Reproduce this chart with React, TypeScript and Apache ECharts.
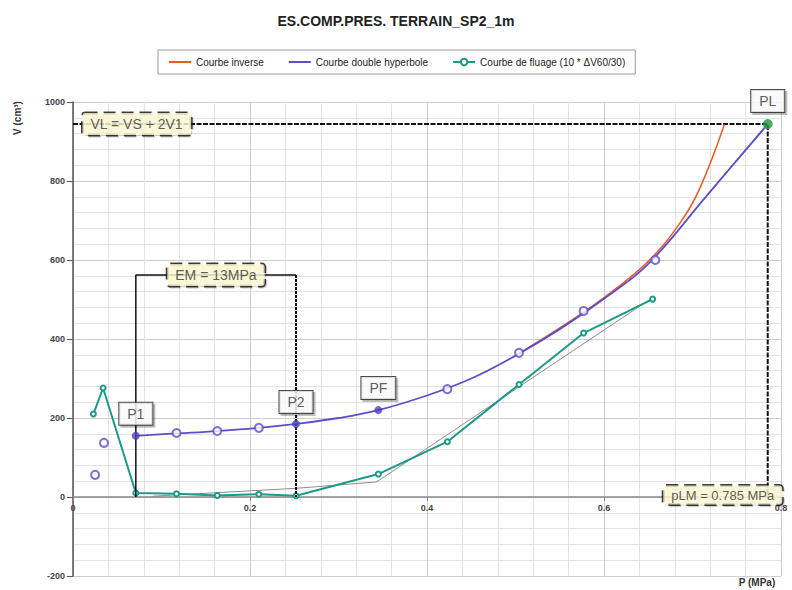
import React, { useEffect, useRef } from "react";
import * as echarts from "echarts";

const chartTitle = "ES.COMP.PRES. TERRAIN_SP2_1m";
const legendNames = [
  "Courbe inverse",
  "Courbe double hyperbole",
  "Courbe de fluage (10 * ΔV60/30)",
];
const xAxisTitle = "P (MPa)";
const yAxisTitle = "V (cm³)";

// measured pressuremeter points (open circles)
const rawP = [0.025, 0.035, 0.117, 0.163, 0.21, 0.423, 0.504, 0.577, 0.658];
const rawV = [56, 137, 162, 167, 175, 273, 365, 471, 600];

// characteristic points
const keyNames = ["P1", "P2", "PF", "PL"];
const keyP = [0.071, 0.252, 0.345, 0.785];
const keyV = [155, 185, 220, 944];

// double hyperbola fitted curve
const hypP = [0.071, 0.117, 0.163, 0.21, 0.252, 0.3, 0.345, 0.4, 0.45, 0.5, 0.55, 0.6, 0.65, 0.715, 0.785];
const hypV = [155, 161, 167, 175, 185, 200, 220, 257, 300, 358, 425, 502, 590, 760, 944];

// inverse curve
const invP = [0.505, 0.55, 0.6, 0.65, 0.686, 0.708, 0.736];
const invV = [365, 428, 505, 597, 694, 780, 943];

// creep curve (10 * dV60/30)
const fluP = [0.023, 0.034, 0.071, 0.117, 0.163, 0.21, 0.252, 0.345, 0.423, 0.504, 0.577, 0.655];
const fluV = [210, 276, 10, 8, 4, 7, 3, 58, 140, 285, 415, 501];

// grey reference line of the creep curve
const greyP = [0.09, 0.252, 0.343, 0.655];
const greyV = [2, 22, 38, 505];

// annotations
const emTopV = 562;
const emText = "EM = 13MPa";
const vlText = "VL = VS + 2V1";
const plmText = "pLM = 0.785 MPa";

const FONT = "'Liberation Sans', Arial, sans-serif";
const zip = (a: number[], b: number[]) => a.map((x, i) => [x, b[i]]);

export default function App() {
  const ref = useRef<HTMLDivElement>(null);
  useEffect(() => {
    if (!ref.current) return;
    const chart = echarts.init(ref.current, null, { renderer: "svg" });
    const plP = keyP[3];
    const plV = keyV[3];
    const p1 = keyP[0];
    const p2 = keyP[1];
    const yellowBox = {
      show: true,
      backgroundColor: "#fffcd6",
      borderColor: "#111",
      borderWidth: 1.5,
      borderType: "dashed",
      borderRadius: 3,
      padding: [4, 8],
      fontSize: 14,
      fontFamily: FONT,
      color: "#333",
      shadowColor: "rgba(0,0,0,0.25)",
      shadowOffsetX: 1,
      shadowOffsetY: 1,
    };
    const hiddenSymbol = { color: "rgba(0,0,0,0)", borderWidth: 0, borderColor: "rgba(0,0,0,0)" };
    const option: any = {
      animation: false,
      backgroundColor: "#fff",
      textStyle: { fontFamily: FONT },
      title: {
        text: chartTitle,
        left: "center",
        top: 9,
        textStyle: { fontSize: 14, fontWeight: "bold", color: "#222", fontFamily: FONT },
      },
      legend: {
        data: [
          { name: legendNames[0], itemStyle: hiddenSymbol },
          { name: legendNames[1], itemStyle: hiddenSymbol },
          { name: legendNames[2] },
        ],
        left: 158,
        top: 50,
        borderColor: "#999",
        borderWidth: 1,
        padding: [7, 10],
        itemWidth: 22,
        itemHeight: 8,
        itemGap: 24,
        textStyle: { fontSize: 10, color: "#222", fontFamily: FONT },
      },
      grid: { left: 73, right: 11, top: 102, bottom: 14, containLabel: false },
      xAxis: {
        type: "value",
        min: 0,
        max: 0.8,
        interval: 0.2,
        offset: -79,
        axisLine: { onZero: false, lineStyle: { color: "#888", width: 1.5 } },
        axisTick: { show: true, length: 4, lineStyle: { color: "#888" } },
        axisLabel: { fontSize: 9, fontWeight: "bold", color: "#444", margin: 6 },
        splitLine: { show: true, lineStyle: { color: "#cdcdcd" } },
        minorTick: { show: false, splitNumber: 5 },
        minorSplitLine: { show: true, lineStyle: { color: "#e3e3e3" } },
      },
      yAxis: {
        type: "value",
        min: -200,
        max: 1000,
        interval: 200,
        axisLine: { show: true, onZero: false, lineStyle: { color: "#555", width: 1.5 } },
        axisTick: { show: true, length: 6, lineStyle: { color: "#555" } },
        axisLabel: {
          fontSize: 9,
          fontWeight: "bold",
          color: "#444",
          margin: 8,
          formatter: (v: number) => String(v),
        },
        splitLine: { show: true, lineStyle: { color: "#cdcdcd" } },
        minorTick: { show: false, splitNumber: 5 },
        minorSplitLine: { show: true, lineStyle: { color: "#e3e3e3" } },
      },
      graphic: [
        {
          type: "text",
          x: 17,
          y: 118,
          rotation: Math.PI / 2,
          style: {
            text: yAxisTitle,
            fill: "#333",
            font: `bold 10px ${FONT}`,
            align: "center",
            verticalAlign: "middle",
          },
        },
        {
          type: "text",
          x: 757,
          y: 582,
          style: {
            text: xAxisTitle,
            fill: "#333",
            font: `bold 10px ${FONT}`,
            align: "center",
            verticalAlign: "middle",
          },
        },
      ],
      series: [
        {
          name: "grey",
          type: "line",
          data: zip(greyP, greyV),
          symbol: "none",
          lineStyle: { color: "#8c8c8c", width: 1 },
          z: 2,
        },
        {
          name: legendNames[2],
          type: "line",
          data: zip(fluP, fluV),
          symbol: "emptyCircle",
          symbolSize: 5,
          color: "#1d998b",
          lineStyle: { color: "#1d998b", width: 2 },
          itemStyle: { color: "#1d998b", borderWidth: 1 },
          z: 3,
        },
        {
          name: "vl-lines",
          type: "line",
          data: [
            [0, plV],
            [plP, plV],
            [plP, 0],
          ],
          symbol: "none",
          lineStyle: { color: "#111", width: 2, type: [5, 1.5] },
          z: 4,
        },
        {
          name: "em-left",
          type: "line",
          data: [
            [p1, 0],
            [p1, emTopV],
            [p2, emTopV],
          ],
          symbol: "none",
          lineStyle: { color: "#111", width: 1.5 },
          z: 4,
        },
        {
          name: "em-right",
          type: "line",
          data: [
            [p2, emTopV],
            [p2, 0],
          ],
          symbol: "none",
          lineStyle: { color: "#111", width: 2, type: [3, 1] },
          z: 4,
        },
        {
          name: legendNames[0],
          type: "line",
          data: zip(invP, invV),
          smooth: 0.4,
          symbol: "none",
          color: "#f4561c",
          lineStyle: { color: "#f4561c", width: 1.5 },
          z: 5,
        },
        {
          name: legendNames[1],
          type: "line",
          data: zip(hypP, hypV),
          smooth: 0.4,
          symbol: "none",
          color: "#5a4fc9",
          lineStyle: { color: "#5a4fc9", width: 1.8 },
          z: 6,
        },
        {
          name: "points",
          type: "scatter",
          data: zip(rawP, rawV),
          symbol: "emptyCircle",
          symbolSize: 8,
          itemStyle: { color: "#5a4fc9", borderColor: "#5a4fc9", borderWidth: 1.5 },
          z: 7,
        },
        {
          name: "key",
          type: "scatter",
          data: keyNames.map((n, i) => ({
            name: n,
            value: [keyP[i], keyV[i]],
            symbolSize: n === "PL" ? 10 : 8,
            itemStyle: { color: n === "PL" ? "#1f9a3c" : "#4a40bd" },
          })),
          label: {
            show: true,
            position: "top",
            distance: 7,
            formatter: (p: any) => p.name,
            backgroundColor: "#fff",
            borderColor: "#222",
            borderWidth: 1,
            padding: [4, 8],
            fontSize: 14,
            fontFamily: FONT,
            color: "#333",
            shadowColor: "rgba(0,0,0,0.3)",
            shadowOffsetX: 2,
            shadowOffsetY: 2,
          },
          z: 9,
        },
        {
          name: "annotations",
          type: "scatter",
          symbolSize: 1,
          itemStyle: { color: "rgba(0,0,0,0)" },
          silent: true,
          z: 10,
          data: [
            {
              value: [0, plV],
              label: { ...yellowBox, formatter: vlText, position: "right", distance: 9 },
            },
            {
              value: [(p1 + p2) / 2, emTopV],
              label: { ...yellowBox, formatter: emText, position: "inside" },
            },
            {
              value: [plP, 0],
              label: {
                ...yellowBox,
                fontSize: 13,
                padding: [3, 8],
                formatter: plmText,
                position: "inside",
                offset: [-45, -2],
              },
            },
          ],
        },
      ],
    };
    chart.setOption(option);
    return () => chart.dispose();
  }, []);
  return (
    <div
      ref={ref}
      style={{ position: "absolute", left: 0, top: 0, width: 792, height: 590 }}
    />
  );
}
